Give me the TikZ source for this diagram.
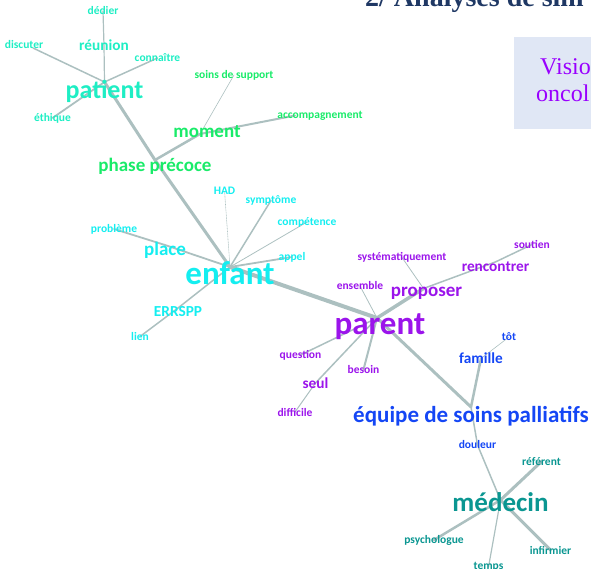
\documentclass[tikz,border=0pt]{standalone}
\usepackage{fontspec}
\newfontfamily\wordfont{Carlito}
\newfontfamily\slidefont{Liberation Serif}
\usetikzlibrary{backgrounds}
\definecolor{grpmint}{RGB}{30,238,196}
\definecolor{grpcyan}{RGB}{20,238,240}
\definecolor{grpgreen}{RGB}{25,235,105}
\definecolor{grppurple}{RGB}{155,20,235}
\definecolor{grpblue}{RGB}{20,70,245}
\definecolor{grpteal}{RGB}{10,150,145}
\definecolor{linkgray}{RGB}{172,192,192}
\definecolor{titleblue}{RGB}{31,56,100}
\definecolor{boxblue}{RGB}{224,231,245}
\definecolor{boxpurple}{RGB}{153,0,255}
\tikzset{
  word/.style={inner sep=0pt, font={\wordfont\bfseries\fontsize{#1}{#1}\selectfont}},
  wsmall/.style={word=11.5},
  wmed/.style={word=15.3},
  wlarge/.style={word=19},
  lnk/.style={draw=linkgray, line width=#1, line cap=round},
}
\begin{document}
\begin{tikzpicture}[x=1pt, y=-1pt]
  \useasboundingbox (0,0) rectangle (591,569);
  \clip (0,0) rectangle (591,569);
  % slide title and side box
  \node[anchor=base west, inner sep=0pt, text=titleblue, font=\slidefont\bfseries\fontsize{28}{28}\selectfont] (title) at (365,7) {2/ Analyses de sim};
  \fill[boxblue] (514,37) rectangle (600,129);
  \node[anchor=base west, inner sep=0pt, text=boxpurple, font=\slidefont\fontsize{24}{24}\selectfont] (vision) at (540,75) {Visio};
  \node[anchor=base west, inner sep=0pt, text=boxpurple, font=\slidefont\fontsize{24}{24}\selectfont] (oncol) at (536,102) {oncol};

  % patient
  \node[word=26, text=grpmint] (patient) at (104.5,91) {patient};
  \node[wmed, text=grpmint] (reunion) at (104,45.5) {réunion};
  \node[wsmall, text=grpmint] (dedier) at (103,11) {dédier};
  \node[wsmall, text=grpmint] (discuter) at (24,45) {discuter};
  \node[wsmall, text=grpmint] (connaitre) at (157.5,58) {connaître};
  \node[wsmall, text=grpmint] (ethique) at (52.5,118) {éthique};
  % moment / phase precoce
  \node[wlarge, text=grpgreen] (phase) at (155,166) {phase précoce};
  \node[wlarge, text=grpgreen] (moment) at (207,132) {moment};
  \node[wsmall, text=grpgreen] (support) at (234,75) {soins de support};
  \node[wsmall, text=grpgreen] (accomp) at (320,115.5) {accompagnement};
  % enfant
  \node[word=33, text=grpcyan] (enfant) at (230,273) {enfant};
  \node[wsmall, text=grpcyan] (had) at (224.5,190.5) {HAD};
  \node[wsmall, text=grpcyan] (symptome) at (271,200.5) {symptôme};
  \node[wsmall, text=grpcyan] (competence) at (307,222) {compétence};
  \node[wsmall, text=grpcyan] (appel) at (292,257) {appel};
  \node[wlarge, text=grpcyan] (place) at (165,250) {place};
  \node[wsmall, text=grpcyan] (probleme) at (114,229) {problème};
  \node[wmed, text=grpcyan] (errspp) at (178,312) {ERRSPP};
  \node[wsmall, text=grpcyan] (lien) at (140,336.5) {lien};
  % parent
  \node[word=33, text=grppurple] (parent) at (380,327) {parent};
  \node[wlarge, text=grppurple] (proposer) at (426.5,293.5) {proposer};
  \node[wsmall, text=grppurple] (systematique) at (402,257.5) {systématiquement};
  \node[wmed, text=grppurple] (rencontrer) at (495.5,267) {rencontrer};
  \node[wsmall, text=grppurple] (soutien) at (532,244.5) {soutien};
  \node[wsmall, text=grppurple] (ensemble) at (360,286) {ensemble};
  \node[wsmall, text=grppurple] (question) at (300.5,355) {question};
  \node[wsmall, text=grppurple] (besoin) at (363.5,369.5) {besoin};
  \node[wmed, text=grppurple] (seul) at (315.5,383) {seul};
  \node[wsmall, text=grppurple] (difficile) at (295,412) {difficile};
  % equipe de soins palliatifs
  \node[word=23, text=grpblue] (equipe) at (471,416) {équipe de soins palliatifs};
  \node[wmed, text=grpblue] (famille) at (481,358.5) {famille};
  \node[wsmall, text=grpblue] (tot) at (509,337) {tôt};
  \node[wsmall, text=grpblue] (douleur) at (477.5,445) {douleur};
  % medecin
  \node[word=27, text=grpteal] (medecin) at (500.5,502) {médecin};
  \node[wsmall, text=grpteal] (referent) at (541.5,461.5) {référent};
  \node[wsmall, text=grpteal] (psycho) at (434,540) {psychologue};
  \node[wsmall, text=grpteal] (infirmier) at (550.5,550) {infirmier};
  \node[wsmall, text=grpteal] (temps) at (488.5,567) {temps};

  \begin{scope}[on background layer]
    \draw[lnk=1.2pt] ([yshift=9pt]patient.center) -- (reunion.center) -- (dedier.center);
    \draw[lnk=1.5pt] ([yshift=9pt]patient.center) -- ([xshift=9pt,yshift=-3pt]discuter.center);
    \draw[lnk=1.5pt] ([yshift=9pt]patient.center) -- (connaitre.center);
    \draw[lnk=1.8pt] ([yshift=9pt]patient.center) -- (ethique.center);
    \draw[lnk=3pt] ([yshift=9pt]patient.center) -- ([yshift=6pt]phase.center);
    \draw[lnk=2.5pt] ([yshift=6pt]phase.center) -- ([xshift=-7pt,yshift=-2pt]moment.center);
    \draw[lnk=0.6pt] ([xshift=-7pt,yshift=-2pt]moment.center) -- (support.center);
    \draw[lnk=2pt] ([xshift=-7pt,yshift=-2pt]moment.center) -- ([xshift=-25pt]accomp.center);
    \draw[lnk=3pt] ([yshift=6pt]phase.center) -- ([yshift=6pt]enfant.center);
    \draw[lnk=0.6pt, densely dotted] ([yshift=6pt]enfant.center) -- (had.center);
    \draw[lnk=1.5pt] ([yshift=6pt]enfant.center) -- (symptome.center);
    \draw[lnk=0.8pt] ([yshift=6pt]enfant.center) -- (competence.center);
    \draw[lnk=1.8pt] ([yshift=6pt]enfant.center) -- (appel.center);
    \draw[lnk=1.8pt] ([yshift=6pt]enfant.center) -- ([yshift=5pt]place.center) -- (probleme.center);
    \draw[lnk=1.5pt] ([yshift=6pt]enfant.center) -- ([yshift=4pt]errspp.center) -- (lien.center);
    \draw[lnk=4pt] ([yshift=6pt]enfant.center) -- ([xshift=-3pt,yshift=9pt]parent.center);
    \draw[lnk=3.5pt] ([xshift=-3pt,yshift=9pt]parent.center) -- ([xshift=-3pt,yshift=5pt]proposer.center);
    \draw[lnk=0.8pt] ([xshift=-3pt,yshift=5pt]proposer.center) -- (systematique.center);
    \draw[lnk=1.5pt] ([xshift=-3pt,yshift=5pt]proposer.center) -- (rencontrer.north) -- (soutien.center);
    \draw[lnk=0.8pt] ([xshift=-3pt,yshift=9pt]parent.center) -- (ensemble.center);
    \draw[lnk=1.5pt] ([xshift=-3pt,yshift=9pt]parent.center) -- (question.center);
    \draw[lnk=2pt] ([xshift=-3pt,yshift=9pt]parent.center) -- (besoin.center);
    \draw[lnk=1.5pt] ([xshift=-3pt,yshift=9pt]parent.center) -- (seul.center);
    \draw[lnk=1pt] (seul.center) -- (difficile.center);
    \draw[lnk=3pt] ([xshift=-3pt,yshift=9pt]parent.center) -- ([yshift=9pt]equipe.center);
    \draw[lnk=2.5pt] ([yshift=9pt]equipe.center) -- (famille.center);
    \draw[lnk=0.6pt] (famille.center) -- (tot.center);
    \draw[lnk=1.5pt] ([yshift=9pt]equipe.center) -- (douleur.center) -- ([yshift=2pt]medecin.center);
    \draw[lnk=3pt] ([yshift=2pt]medecin.center) -- (referent.center);
    \draw[lnk=2.5pt] ([yshift=2pt]medecin.center) -- (psycho.center);
    \draw[lnk=3pt] ([yshift=2pt]medecin.center) -- (infirmier.center);
    \draw[lnk=1.2pt] ([yshift=2pt]medecin.center) -- (temps.center);
  \end{scope}
\end{tikzpicture}
\end{document}
